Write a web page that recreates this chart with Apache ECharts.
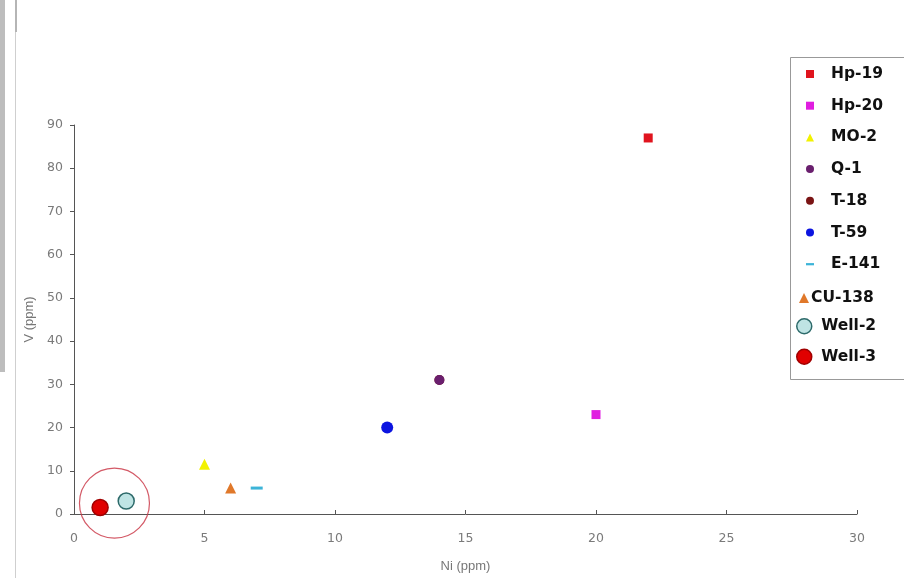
<!DOCTYPE html>
<html>
<head>
<meta charset="utf-8">
<title>V vs Ni</title>
<script src="https://cdn.jsdelivr.net/npm/echarts@6/dist/echarts.min.js"></script>
<style>
  html, body { margin: 0; padding: 0; background: #fff; }
  #chart { width: 904px; height: 578px; }
</style>
</head>
<body>
<div id="chart"></div>
<script>
// sample names, Ni (x) and V (y) in ppm
var names = ["Hp-19", "Hp-20", "MO-2", "Q-1", "T-18", "T-59", "E-141", "CU-138", "Well-2", "Well-3"];
var niValues = [22, 20, 5, 14, 14, 12, 7, 6, 2, 1];
var vValues = [87, 23, 11.5, 31, 31, 20, 6, 6, 3, 1.5];
var ringCenter = [1.55, 2.5];
var xTicks = [0, 5, 10, 15, 20, 25, 30];
var yTicks = [0, 10, 20, 30, 40, 50, 60, 70, 80, 90];

var looks = {
  "Hp-19": { symbol: "rect", size: 9, color: "#e0141e" },
  "Hp-20": { symbol: "rect", size: 9, color: "#e01ee0" },
  "MO-2": { symbol: "triangle", size: 11, color: "#f2f200" },
  "Q-1": { symbol: "circle", size: 10, color: "#6a1f6e" },
  "T-18": { symbol: "circle", size: 10, color: "#7a1414" },
  "T-59": { symbol: "circle", size: 12, color: "#0c14e0" },
  "E-141": { symbol: "rect", size: [12, 3], color: "#3cb4d8", icon: "path://M0,0M10,10M0,3.6h10v2.8h-10z" },
  "CU-138": { symbol: "triangle", size: 11, color: "#e0782a" },
  "Well-2": { symbol: "circle", size: 16, color: "#bfe4e4", border: "#2d6a6a" },
  "Well-3": { symbol: "circle", size: 16, color: "#e00000", border: "#a00000" }
};

// draw T-18 first so Q-1 sits on top
var order = [0, 1, 2, 4, 3, 5, 6, 7, 8, 9];
var series = order.map(function (i) {
  var n = names[i];
  var lk = looks[n];
  return {
    name: n,
    type: "scatter",
    symbol: lk.symbol,
    symbolSize: lk.size,
    itemStyle: {
      color: lk.color,
      borderColor: lk.border || lk.color,
      borderWidth: lk.border ? 1.5 : 0,
      opacity: 1
    },
    data: [[niValues[i], vValues[i]]]
  };
});
series.push({
  name: "ring",
  type: "scatter",
  symbol: "circle",
  symbolSize: 70,
  silent: true,
  z: 1,
  itemStyle: { color: "rgba(0,0,0,0)", borderColor: "#c83040", borderWidth: 1.2 },
  data: [ringCenter]
});

function legendItems(list) {
  return list.map(function (n) {
    var lk = looks[n];
    return {
      name: n,
      icon: lk.icon || lk.symbol,
      itemStyle: { color: lk.color, borderColor: lk.border || lk.color, borderWidth: lk.border ? 1.5 : 0 }
    };
  });
}
var legendText = { fontFamily: "DejaVu Sans", fontWeight: "bold", fontSize: 15.5, color: "#111" };
var tickFont = { fontFamily: "DejaVu Sans", fontSize: 12.5, color: "#7a7a7a" };
var nameFont = { fontFamily: "Liberation Sans", fontSize: 13, color: "#777" };

var dom = document.getElementById("chart");
var myChart = echarts.init(dom, null, { renderer: "canvas" });

var option = {
  animation: false,
  backgroundColor: "#fff",
  grid: { left: 74, right: 47, top: 125, bottom: 63 },
  xAxis: {
    type: "value",
    min: 0,
    max: 30,
    interval: 5,
    name: "Ni (ppm)",
    nameLocation: "middle",
    nameGap: 46,
    nameTextStyle: nameFont,
    axisLine: { lineStyle: { color: "#555" } },
    axisTick: { inside: true, length: 4, lineStyle: { color: "#555" } },
    axisLabel: Object.assign({
      margin: 18,
      formatter: function (v) { return xTicks.indexOf(v) >= 0 ? String(v) : ""; }
    }, tickFont),
    splitLine: { show: false }
  },
  yAxis: {
    type: "value",
    min: 0,
    max: 90,
    interval: 10,
    name: "V (ppm)",
    nameLocation: "middle",
    nameGap: 38,
    nameTextStyle: nameFont,
    axisLine: { show: true, lineStyle: { color: "#555" } },
    axisTick: { show: true, length: 4, lineStyle: { color: "#555" } },
    axisLabel: Object.assign({
      margin: 11,
      formatter: function (v) { return yTicks.indexOf(v) >= 0 ? String(v) : ""; }
    }, tickFont),
    splitLine: { show: false }
  },
  legend: [
    {
      orient: "vertical",
      left: 801, top: 61,
      itemWidth: 8, itemHeight: 8,
      itemGap: 15.7,
      textStyle: Object.assign({ padding: [0, 0, 0, 12] }, legendText),
      selectedMode: false,
      data: legendItems(names.slice(0, 7))
    },
    {
      orient: "vertical",
      left: 794, top: 285,
      itemWidth: 10, itemHeight: 10,
      textStyle: Object.assign({ padding: [0, 0, 0, -3] }, legendText),
      selectedMode: false,
      data: legendItems(["CU-138"])
    },
    {
      orient: "vertical",
      left: 791, top: 313,
      itemWidth: 16, itemHeight: 15,
      itemGap: 14,
      textStyle: Object.assign({ padding: [0, 0, 0, 4] }, legendText),
      selectedMode: false,
      data: legendItems(["Well-2", "Well-3"])
    }
  ],
  graphic: [
    { type: "rect", left: 788, top: 55, shape: { width: 120, height: 322 }, style: { fill: "none", stroke: "#999", lineWidth: 1 }, z: -1 },
    { type: "rect", left: 0, top: 0, shape: { width: 5, height: 372 }, style: { fill: "#bdbdbd" }, z: -1 },
    { type: "rect", left: 15, top: 0, shape: { width: 1, height: 578 }, style: { fill: "#cfcfcf" }, z: -1 },
    { type: "rect", left: 15, top: 0, shape: { width: 2, height: 32 }, style: { fill: "#b5b5b5" }, z: -1 }
  ],
  series: series
};

myChart.setOption(option);
window.addEventListener("resize", myChart.resize);
</script>
</body>
</html>
